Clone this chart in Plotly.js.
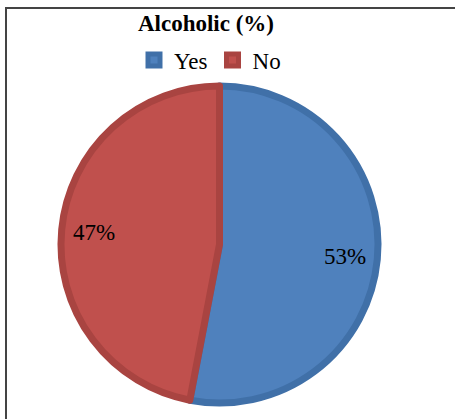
<!DOCTYPE html>
<html>
<head>
<meta charset="utf-8">
<script src="https://cdn.plot.ly/plotly-3.0.1.min.js"></script>
<style>
  html, body { margin: 0; padding: 0; background: #fff; }
  #wrap { position: relative; width: 455px; height: 419px; overflow: hidden; }
  #chart { position: absolute; left: 0; top: 0; width: 455px; height: 419px; }
  #frame { position: absolute; left: 5px; top: 7px; width: 470px; height: 430px;
           border-left: 2px solid #444; border-top: 2px solid #444; pointer-events: none; }
</style>
</head>
<body>
<div id="wrap">
  <div id="chart"></div>
  <div id="frame"></div>
</div>
<script>
const categories = ["Yes", "No"];
const percentValues = [53, 47];
const sliceColors = ["#4F81BD", "#C0504D"];
const edgeColors = ["#4070A8", "#A94441"];
const chartTitle = "Alcoholic (%)";

const serif = "Liberation Serif, Times New Roman, serif";

const trace = {
  type: "pie",
  labels: categories,
  values: percentValues,
  sort: false,
  direction: "clockwise",
  rotation: 0,
  marker: { colors: sliceColors, line: { color: edgeColors, width: 7 } },
  textinfo: "none",
  hoverinfo: "label+percent"
};

// Data labels placed along each slice's mid-angle (Excel "best fit" style)
const total = percentValues.reduce((a, b) => a + b, 0);
const labelRadius = 0.397; // fraction of the pie domain
let cum = 0;
const annotations = percentValues.map((v) => {
  const mid = (cum + v / 2) / total;
  cum += v;
  const theta = 2 * Math.PI * mid;
  return {
    xref: "paper", yref: "paper",
    x: 0.5 + labelRadius * Math.sin(theta),
    y: 0.5 + labelRadius * Math.cos(theta),
    text: v + "%",
    showarrow: false,
    xanchor: "center", yanchor: "middle",
    font: { family: serif, size: 23, color: "#000" }
  };
});

const layout = {
  width: 455,
  height: 419,
  margin: { l: 61, r: 77, t: 86, b: 16 },
  paper_bgcolor: "#fff",
  showlegend: true,
  title: {
    text: "<b>" + chartTitle + "</b>",
    font: { family: serif, size: 23, color: "#000" },
    x: 206 / 455, xref: "container", xanchor: "center",
    y: 1 - 23 / 419, yref: "container", yanchor: "middle"
  },
  legend: {
    orientation: "h",
    xref: "container", yref: "container",
    x: 210 / 455, xanchor: "center",
    y: 1 - 60 / 419, yanchor: "middle",
    font: { family: serif, size: 23, color: "#000" },
    itemwidth: 30,
    tracegroupgap: 0,
    traceorder: "normal"
  },
  annotations: annotations
};

Plotly.newPlot("chart", [trace], layout, { displayModeBar: false, staticPlot: true });
</script>
</body>
</html>
